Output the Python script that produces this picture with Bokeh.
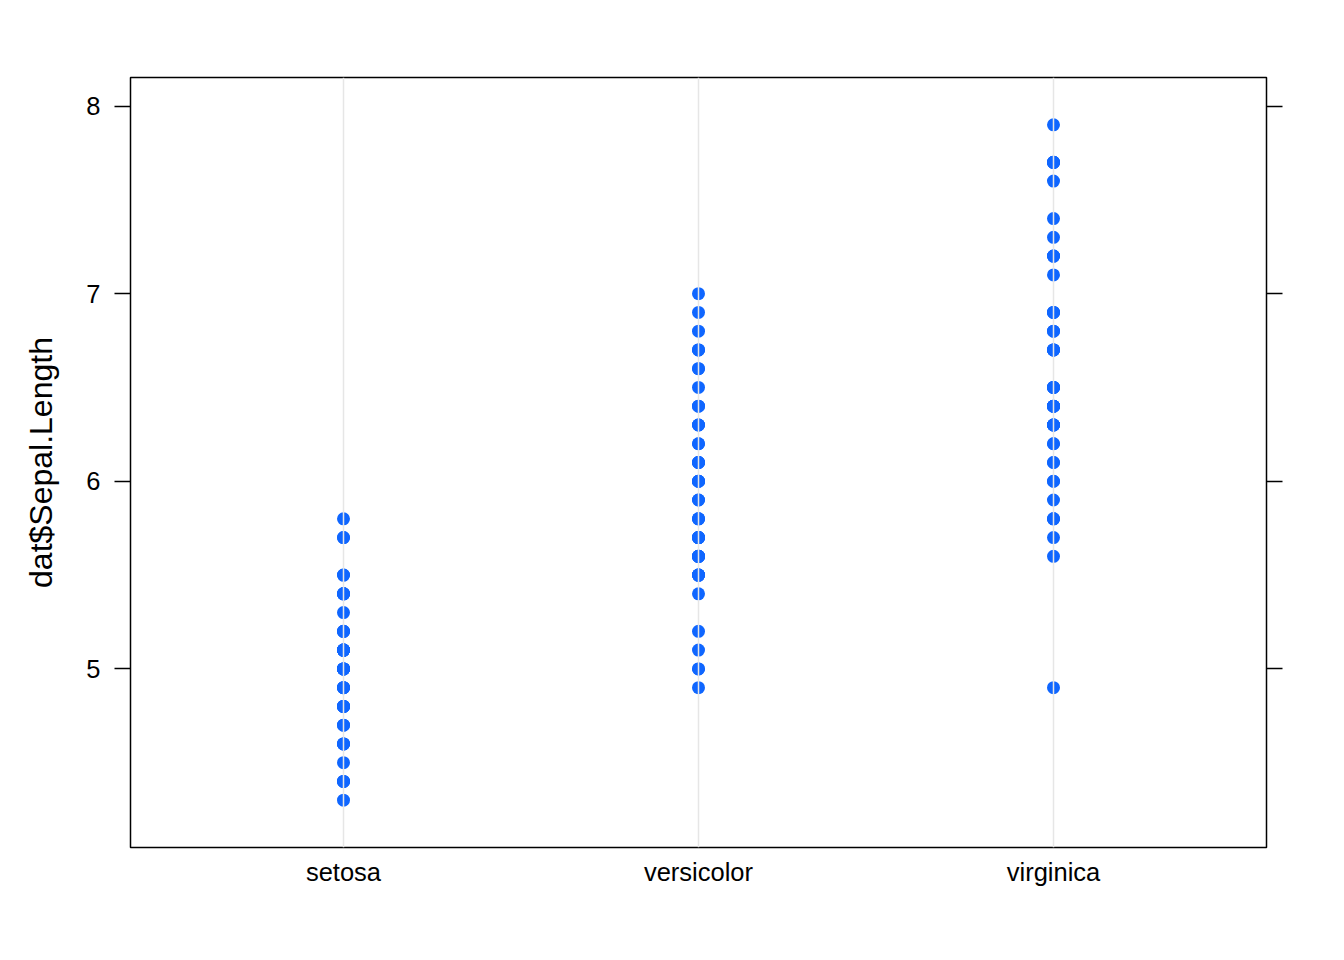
from bokeh.plotting import figure
from bokeh.models import ColumnDataSource, FixedTicker, LinearAxis, Range1d, Span
from bokeh.embed import file_html
from bokeh.resources import INLINE

species = ["setosa", "versicolor", "virginica"]

setosa = [5.1, 4.9, 4.7, 4.6, 5.0, 5.4, 4.6, 5.0, 4.4, 4.9, 5.4, 4.8, 4.8, 4.3, 5.8, 5.7, 5.4, 5.1, 5.7, 5.1,
          5.4, 5.1, 4.6, 5.1, 4.8, 5.0, 5.0, 5.2, 5.2, 4.7, 4.8, 5.4, 5.2, 5.5, 4.9, 5.0, 5.5, 4.9, 4.4, 5.1,
          5.0, 4.5, 4.4, 5.0, 5.1, 4.8, 5.1, 4.6, 5.3, 5.0]
versicolor = [7.0, 6.4, 6.9, 5.5, 6.5, 5.7, 6.3, 4.9, 6.6, 5.2, 5.0, 5.9, 6.0, 6.1, 5.6, 6.7, 5.6, 5.8, 6.2, 5.6,
              5.9, 6.1, 6.3, 6.1, 6.4, 6.6, 6.8, 6.7, 6.0, 5.7, 5.5, 5.5, 5.8, 6.0, 5.4, 6.0, 6.7, 6.3, 5.6, 5.5,
              5.5, 6.1, 5.8, 5.0, 5.6, 5.7, 5.7, 6.2, 5.1, 5.7]
virginica = [6.3, 5.8, 7.1, 6.3, 6.5, 7.6, 4.9, 7.3, 6.7, 7.2, 6.5, 6.4, 6.8, 5.7, 5.8, 6.4, 6.5, 7.7, 7.7, 6.0,
             6.9, 5.6, 7.7, 6.3, 6.7, 7.2, 6.2, 6.1, 6.4, 7.2, 7.4, 7.9, 6.4, 6.3, 6.1, 7.7, 6.3, 6.4, 6.0, 6.9,
             6.7, 6.9, 5.8, 6.8, 6.7, 6.7, 6.3, 6.5, 6.2, 5.9]

y_ticks = [5, 6, 7, 8]
y_label = "dat$Sepal.Length"

groups = [setosa, versicolor, virginica]
xs, ys = [], []
for i, g in enumerate(groups):
    xs += [i + 1] * len(g)
    ys += g

allv = setosa + versicolor + virginica
lo, hi = min(allv), max(allv)
pad = (hi - lo) * 0.07

p = figure(width=1336, height=952, output_backend="svg", toolbar_location=None,
           x_range=Range1d(0.4, 3.6), y_range=Range1d(lo - pad, hi + pad),
           min_border_left=130, min_border_right=70, min_border_top=77, min_border_bottom=105)
p.background_fill_color = "white"
p.border_fill_color = "white"
p.outline_line_color = "black"
p.outline_line_width = 1.5
p.xgrid.visible = False
p.ygrid.visible = False

for i in range(len(species)):
    p.add_layout(Span(location=i + 1, dimension="height", line_color="#e6e6e6", line_width=1.5))

src = ColumnDataSource(dict(x=xs, y=ys))
p.scatter("x", "y", source=src, size=13, fill_color="#0f66ff", line_color=None)

font = "Liberation Sans"

xa = p.xaxis[0]
xa.ticker = FixedTicker(ticks=[1, 2, 3])
xa.major_label_overrides = {i + 1: s for i, s in enumerate(species)}
xa.major_tick_out = 0
xa.major_tick_in = 0
xa.minor_tick_line_color = None
xa.axis_line_color = None
xa.major_label_standoff = 10
xa.major_label_text_font = font
xa.major_label_text_font_size = "25.5px"
xa.major_label_text_color = "black"

ya = p.yaxis[0]
ya.ticker = FixedTicker(ticks=y_ticks)
ya.major_tick_out = 16
ya.major_tick_in = 0
ya.major_tick_line_width = 1.5
ya.minor_tick_line_color = None
ya.axis_line_color = None
ya.major_label_standoff = 14
ya.major_label_orientation = 0
ya.major_label_text_font = font
ya.major_label_text_font_size = "25.5px"
ya.major_label_text_color = "black"
ya.axis_label = y_label
ya.axis_label_text_font = font
ya.axis_label_text_font_size = "32px"
ya.axis_label_text_font_style = "normal"
ya.axis_label_standoff = 24
ya.axis_label_text_color = "black"

ra = LinearAxis(ticker=FixedTicker(ticks=y_ticks))
ra.major_tick_out = 16
ra.major_tick_in = 0
ra.major_tick_line_width = 1.5
ra.minor_tick_line_color = None
ra.axis_line_color = None
ra.major_label_text_font_size = "0px"
ra.major_label_text_color = None
p.add_layout(ra, "right")

open("out.html", "w").write(file_html(p, INLINE))
